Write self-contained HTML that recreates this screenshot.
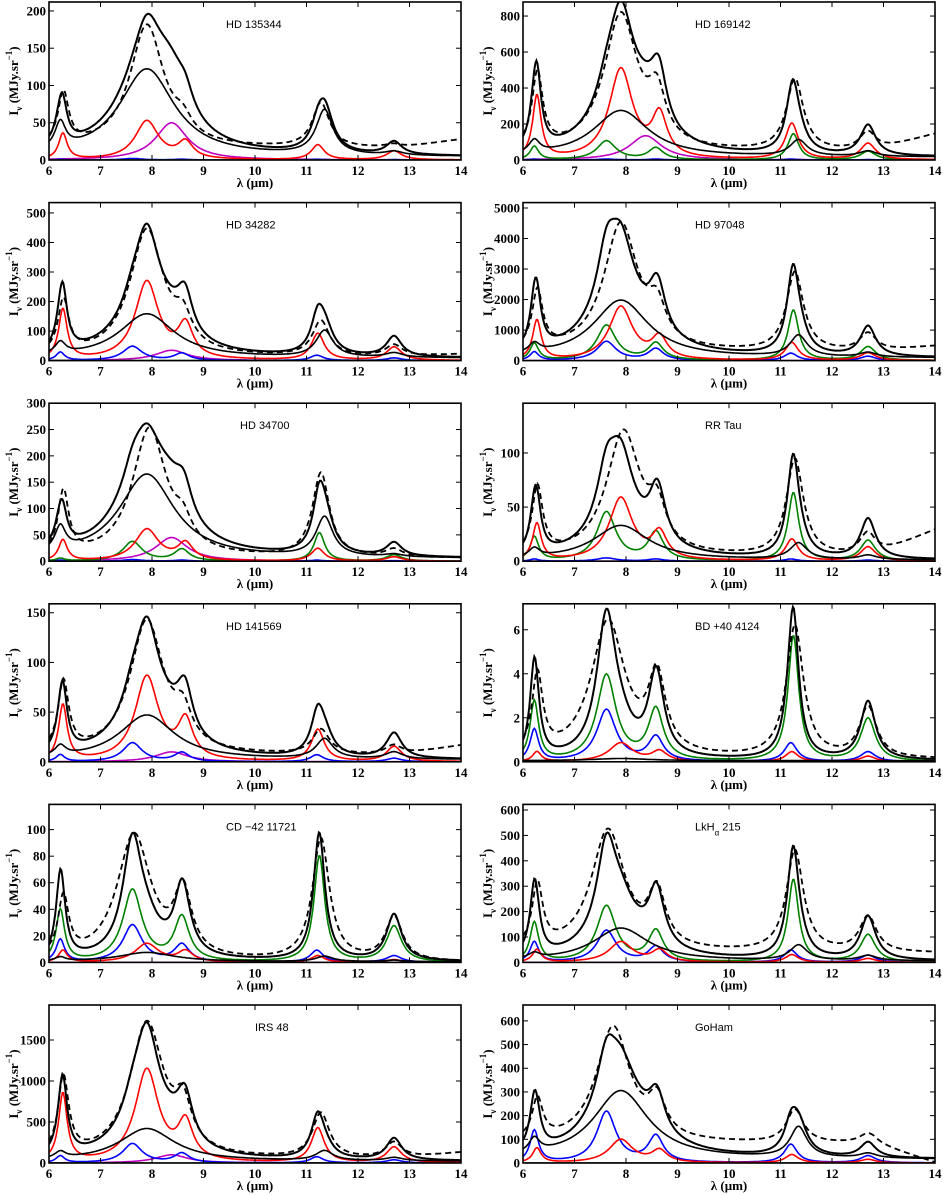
<!DOCTYPE html>
<html><head><meta charset="utf-8">
<style>
html,body{margin:0;padding:0;background:#fff;}
svg{display:block;}
.tk{font-family:"Liberation Serif",serif;font-weight:bold;font-size:13px;fill:#000;}
.tt{font-family:"Liberation Sans",sans-serif;font-size:11px;fill:#000;}
</style></head>
<body>
<svg id="chart" width="943" height="1195" viewBox="0 0 943 1195" xmlns="http://www.w3.org/2000/svg"></svg>
<script>
const titles = ["HD 135344","HD 169142","HD 34282","HD 97048","HD 34700","RR Tau","HD 141569","BD +40 4124","CD \u221242 11721","LkH\u03b1 215","IRS 48","GoHam"];
const yMax = [212,878,535,5177,300,146,159,7.18,119,622,1927,667];
const yStep = [50,200,100,1000,50,50,50,2,20,100,500,100];
const xTicks = [6,7,8,9,10,11,12,13,14];
// thin black (broad) component: bands 6.22, 7.9, 11.35, 12.7 + const
const thinPeaks = [[35,118,60,5],[70,260,90,30],[40,150,90,15],[300,1900,700,150],[45,160,75,5],[8,32,15,4],[10,45,20,7],[0,0.1,0,0],[3,7,4,1],[20,130,60,20],[80,400,120,40],[60,290,130,20]];
const thinConst = [4,15,8,80,5,1,2,0.05,0.5,5,20,15];
// red: 6.27, 7.9, 8.65, 11.22, 12.7
const redPeaks = [[35,52,22,20,12],[350,500,230,200,90],[170,265,110,90,45],[1300,1750,700,580,250],[40,60,32,24,8],[34,58,24,20,13],[56,85,38,32,15],[0.45,0.85,0.45,0.45,0.25],[9,14,8,5,2],[50,80,45,30,15],[830,1130,450,420,190],[62,98,50,35,15]];
// green: 6.22, 7.62, 8.58, 11.25, 12.7
const greenPeaks = [[0,0,0,0,0],[75,105,65,145,48],[0,0,0,0,0],[550,1150,550,1650,450],[5,37,22,54,12],[22,45,26,63,19],[0,0,0,0,0],[2.7,3.9,2.3,5.7,1.95],[39,54,33,80,27],[155,220,120,325,108],[0,0,0,0,0],[0,0,0,0,0]];
// blue: 6.22, 7.62, 8.58, 11.2, 12.7
const bluePeaks = [[1,2,1,1,0.5],[5,5,5,5,2],[28,48,24,18,9],[280,620,380,240,140],[2,3,2,2,1],[2,3,2,2,1],[7,19,9,7,3.5],[1.45,2.35,1.1,0.85,0.45],[17,28,13,9,5],[80,125,60,48,28],[85,235,115,75,38],[135,215,110,78,30]];
// magenta: 8.38
const magentaPeaks = [50,135,35,0,45,0,10,0,0,0,100,0];
// observed (dashed): 6.28, 7.x, 8.6, 11.28, 12.7
const obsPeaks = [[70,165,20,60,5],[420,760,250,400,110],[180,430,90,120,40],[1900,4200,1100,2600,600],[120,245,40,160,15],[62,115,35,90,22],[70,135,30,25,10],[3.6,6.2,3.4,6.0,2.3],[45,95,48,92,33],[250,480,210,400,140],[950,1650,500,550,200],[170,490,150,140,40]];
const obsCenter77 = [7.9,7.9,7.9,7.9,7.95,7.95,7.9,7.65,7.65,7.65,7.9,7.75];
const obsConst = [15,40,10,250,5,3,6,0.1,0,35,40,80];
const obsTail = [12,100,10,200,0,25,10,0,0,0,80,-80];

const NS="http://www.w3.org/2000/svg";
const svg=document.getElementById('chart');
function mk(tag,attrs,parent){const e=document.createElementNS(NS,tag);for(const k in attrs)e.setAttribute(k,attrs[k]);(parent||svg).appendChild(e);return e;}
function lor(x,c,h,w){const d=(x-c)/(w/2);return h/(1+d*d);}
function sumBands(x,c,h,w){let s=0;for(let i=0;i<c.length;i++)s+=lor(x,c[i],h[i],w[i]);return s;}
const thinC=[6.22,7.9,11.35,12.7],thinW=[0.25,1.3,0.4,0.4];
const redC=[6.27,7.9,8.65,11.22,12.7],redW=[0.2,0.55,0.35,0.3,0.35];
const grnC=[6.22,7.62,8.58,11.25,12.7],grnW=[0.2,0.45,0.35,0.25,0.35];
const bluC=[6.22,7.62,8.58,11.2,12.7],bluW=[0.2,0.45,0.35,0.3,0.35];
const obsW=[0.25,0.8,0.4,0.4,0.4];

for(let p=0;p<12;p++){
  const col=p%2,row=Math.floor(p/2);
  const L=col?523:49,R=col?935:461;
  const B=160+row*200.6,T=B-158;
  const g=mk('g',{});
  
  
  const X=v=>L+(v-6)/8*(R-L);
  const Y=v=>B-Math.max(-1,v)/yMax[p]*(B-T);
  const series={
    magenta:x=>lor(x,8.38,magentaPeaks[p],0.75),
    blue:x=>sumBands(x,bluC,bluePeaks[p],bluW),
    green:x=>sumBands(x,grnC,greenPeaks[p],grnW),
    red:x=>sumBands(x,redC,redPeaks[p],redW),
    thin:x=>sumBands(x,thinC,thinPeaks[p],thinW)+thinConst[p]
  };
  series.total=x=>series.magenta(x)+series.blue(x)+series.green(x)+series.red(x)+series.thin(x);
  series.obs=x=>sumBands(x,[6.28,obsCenter77[p],8.6,11.28,12.7],obsPeaks[p],obsW)+obsConst[p]+(x>12.8?obsTail[p]*(x-12.8)/1.2:0);
  const styles={magenta:['#c000c0',1.6,''],blue:['#0000ff',1.6,''],green:['#008000',1.6,''],red:['#ff0000',1.6,''],thin:['#000',1.6,''],obs:['#000',1.8,'6,4'],total:['#000',2,'']};
  const clip=mk('clipPath',{id:'c'+p},g);mk('rect',{x:L,y:T,width:R-L,height:B-T},clip);
  for(const k of ['magenta','blue','green','red','thin','obs','total']){
    let d='';
    for(let i=0;i<=400;i++){const x=6+8*i/400;d+=(i?'L':'M')+X(x).toFixed(1)+','+Y(series[k](x)).toFixed(1);}
    const s=styles[k];
    const path=mk('path',{d:d,fill:'none',stroke:s[0],'stroke-width':s[1],'clip-path':'url(#c'+p+')'},g);
    if(s[2])path.setAttribute('stroke-dasharray',s[2]);
    
    
  }
  const frame=mk('rect',{x:L,y:T,width:R-L,height:B-T,fill:'none',stroke:'#000','stroke-width':1.6},g);
  
  
  for(const t of xTicks){
    const x=X(t);
    mk('line',{x1:x,y1:B,x2:x,y2:B-5,stroke:'#000','stroke-width':1},g);
    mk('line',{x1:x,y1:T,x2:x,y2:T+5,stroke:'#000','stroke-width':1},g);
    const lb=mk('text',{x:x,y:B+15,'text-anchor':'middle',class:'tk'},g);lb.textContent=t;
    
    
  }
  for(let v=0;v<=yMax[p]+1e-9;v+=yStep[p]){
    const y=Y(v);
    mk('line',{x1:L,y1:y,x2:L+5,y2:y,stroke:'#000','stroke-width':1},g);
    mk('line',{x1:R,y1:y,x2:R-5,y2:y,stroke:'#000','stroke-width':1},g);
    const lb=mk('text',{x:L-3,y:y+4.5,'text-anchor':'end',class:'tk'},g);lb.textContent=+v.toFixed(2);
    
    
  }
  const xl=mk('text',{x:(L+R)/2,y:B+27,'text-anchor':'middle',class:'tk'},g);
  xl.innerHTML='\u03bb (\u03bcm)';
  
  
  const yl=mk('text',{x:0,y:0,'text-anchor':'middle',class:'tk',transform:'translate('+(L-31)+','+((T+B)/2)+') rotate(-90)'},g);
  yl.innerHTML='I<tspan dy="4" font-size="9">\u03bd</tspan><tspan dy="-4"> (MJy.sr</tspan><tspan dy="-6" font-size="9">\u22121</tspan><tspan dy="6">)</tspan>';
  
  
  const tx=col?(p===5?705:695):(p===10?255:(p===4?240:226));
  const tt=mk('text',{x:tx,y:T+26,class:'tt'},g);
  if(p===9){tt.innerHTML='LkH<tspan dy="5" font-size="8">\u03b1</tspan><tspan dy="-5"> 215</tspan>';}
  else tt.textContent=titles[p];
  
  
}
</script>
</body></html>
